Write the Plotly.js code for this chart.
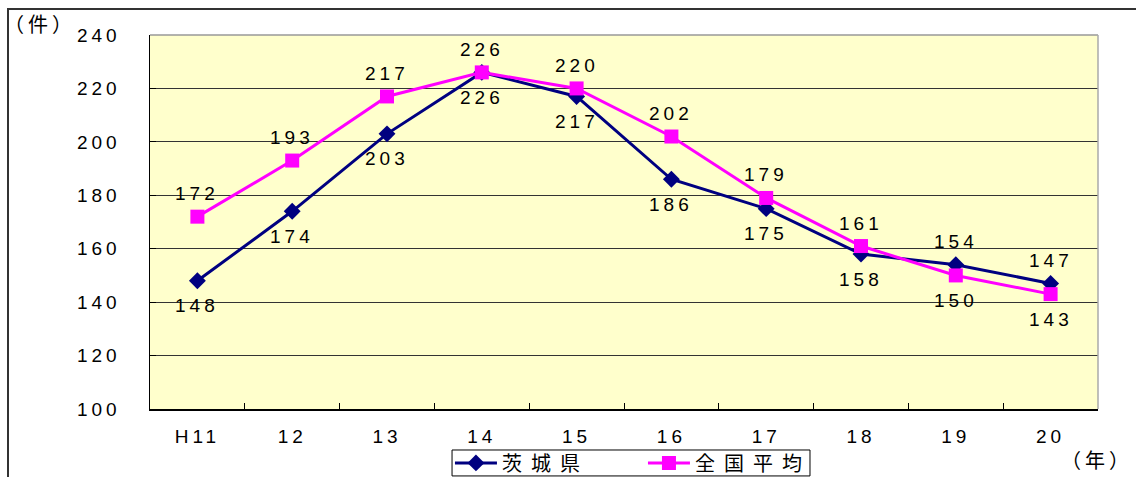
<!DOCTYPE html>
<html>
<head>
<meta charset="utf-8">
<script src="https://cdn.plot.ly/plotly-3.0.1.min.js"></script>
<style>
  html, body { margin: 0; padding: 0; background: #ffffff; overflow: hidden; }
  #wrap { position: relative; width: 1136px; height: 477px; overflow: hidden; }
  #frame { position: absolute; left: 7px; top: 8px; width: 1200px; height: 600px;
           border-top: 2px solid #333; border-left: 2px solid #333; pointer-events: none; z-index: 5; }
  #chart { position: absolute; left: 0; top: 0; width: 1136px; height: 520px; }
  #chart text { letter-spacing: 4px; }
  #chart .legendtext { letter-spacing: 9px; }
</style>
</head>
<body>
<div id="wrap">
  <div id="chart"></div>
  <div id="frame"></div>
</div>
<script>
// Categories (years)
const years = ["H11", "12", "13", "14", "15", "16", "17", "18", "19", "20"];
// 茨城県
const ibaraki = [148, 174, 203, 226, 217, 186, 175, 158, 154, 147];
// 全国平均
const national = [172, 193, 217, 226, 220, 202, 179, 161, 150, 143];
// which side of the point each value label sits on (1 = above, -1 = below)
const ibarakiSide = [-1, -1, -1, -1, -1, -1, -1, -1, 1, 1];
const nationalSide = [1, 1, 1, 1, 1, 1, 1, 1, -1, -1];
const yTicks = [100, 120, 140, 160, 180, 200, 220, 240];

const numFont = { family: "Liberation Sans, Arial, sans-serif", size: 19, color: "#000" };
const cjkFont = { family: "Noto Sans CJK JP, sans-serif", size: 20, color: "#000" };

const traces = [
  {
    x: years, y: ibaraki, name: "茨城県", type: "scatter", mode: "lines+markers",
    line: { color: "#000080", width: 3 },
    marker: { symbol: "diamond", size: 13, color: "#000080" },
    cliponaxis: false
  },
  {
    x: years, y: national, name: "全国平均", type: "scatter", mode: "lines+markers",
    line: { color: "#FF00FF", width: 3 },
    marker: { symbol: "square", size: 14, color: "#FF00FF" },
    cliponaxis: false
  }
];

// value labels, placed at each category index via the library's axes
function labels(vals, sides) {
  return vals.map((v, i) => ({
    x: i, y: v, xref: "x", yref: "y",
    text: String(v), showarrow: false,
    xanchor: "center", yanchor: "middle",
    yshift: sides[i] > 0 ? 23 : -25,
    font: numFont
  }));
}

const layout = {
  width: 1136, height: 520,
  margin: { l: 150, r: 38, t: 35, b: 111 },
  paper_bgcolor: "rgba(0,0,0,0)",
  plot_bgcolor: "#FFFFCC",
  showlegend: true,
  font: numFont,
  xaxis: {
    type: "category",
    categoryorder: "array", categoryarray: years,
    range: [-0.5, years.length - 0.5],
    tickson: "boundaries",
    ticks: "inside", ticklen: 6, tickcolor: "#000", tickwidth: 1,
    showline: true, linecolor: "#000", linewidth: 1.5,
    showgrid: false,
    tickfont: numFont,
    ticklabelstandoff: 10,
    fixedrange: true
  },
  yaxis: {
    range: [100, 240],
    tickvals: yTicks,
    ticks: "inside", ticklen: 6, tickcolor: "#000",
    showline: true, linecolor: "#000", linewidth: 1.5,
    showgrid: true, gridcolor: "#333", gridwidth: 1,
    zeroline: false,
    tickfont: numFont,
    ticklabelstandoff: 24,
    fixedrange: true
  },
  legend: {
    orientation: "h",
    x: 0.52, xanchor: "center",
    y: -0.092, yanchor: "top",
    bgcolor: "rgba(0,0,0,0)", borderwidth: 0,
    font: cjkFont,
    itemwidth: 42,
    entrywidth: 136,
    tracegroupgap: 0
  },
  shapes: [
    // legend frame
    { type: "rect", xref: "paper", yref: "paper", x0: 0.3186, x1: 0.6962, y0: -0.179, y1: -0.1096,
      line: { color: "#000", width: 1 }, fillcolor: "#ffffff", layer: "below" },
    // plot-area top and right borders
    { type: "line", xref: "paper", yref: "paper", x0: 0, x1: 1, y0: 1, y1: 1,
      line: { color: "#999", width: 1.5 }, layer: "above" },
    { type: "line", xref: "paper", yref: "paper", x0: 1, x1: 1, y0: 0, y1: 1,
      line: { color: "#aaa", width: 1.5 }, layer: "above" }
  ],
  annotations: [
    { text: "（件）", xref: "paper", yref: "paper", x: -0.116, y: 1.032,
      xanchor: "center", yanchor: "middle", showarrow: false, font: cjkFont },
    { text: "（年）", xref: "paper", yref: "paper", x: 0.999, y: -0.136,
      xanchor: "center", yanchor: "middle", showarrow: false, font: cjkFont }
  ].concat(labels(ibaraki, ibarakiSide), labels(national, nationalSide))
};

Plotly.newPlot("chart", traces, layout, { staticPlot: true, displayModeBar: false });
</script>
</body>
</html>
